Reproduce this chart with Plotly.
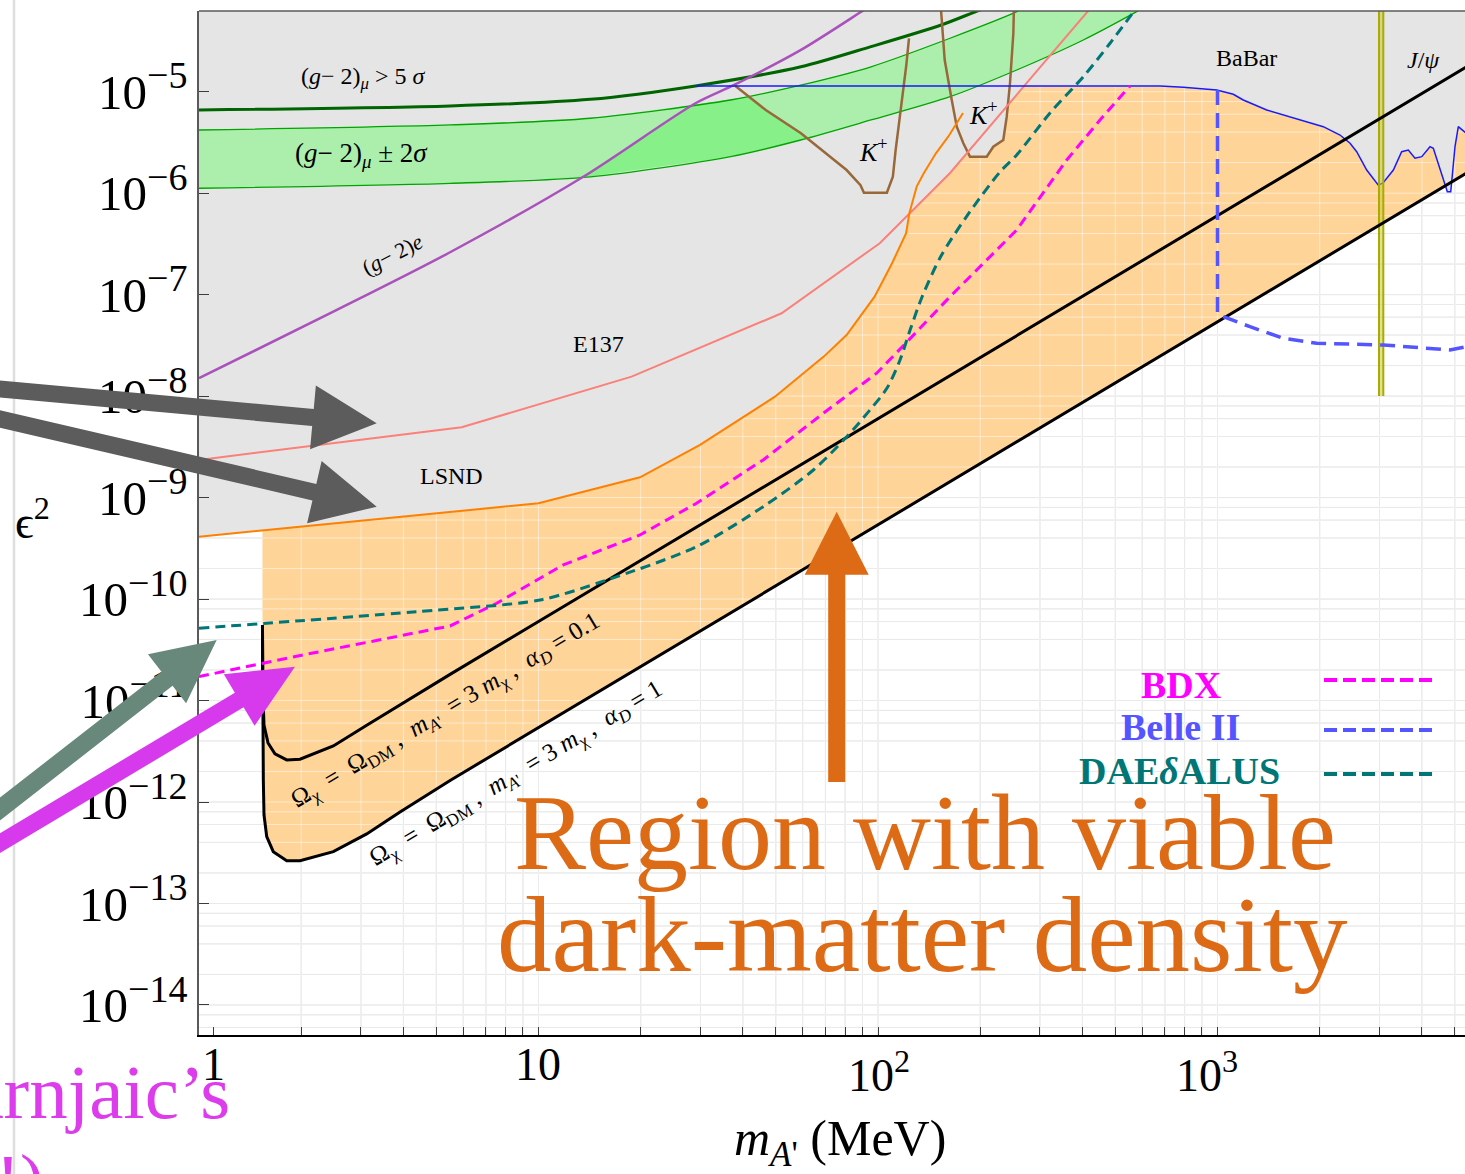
import numpy as np
import plotly.graph_objects as go

# ---------------- data: dark photon mass m_A' (MeV) vs kinetic mixing eps^2 ----------------
# LSND lower edge of exclusion
lsnd_m = [1.0, 10.0, 19.9, 29.9, 49.7, 69.2, 80.8, 97.7, 110, 121, 123.7, 130, 136.4, 148.1, 161, 178]
lsnd_eps = [4.12e-10, 8.79e-10, 1.585e-9, 3.30e-9, 9.87e-9, 2.45e-8, 4.0e-8, 9.55e-8, 2.04e-7,
            4.03e-7, 6.34e-7, 1.16e-6, 1.57e-6, 2.47e-6, 3.60e-6, 6.17e-6]
# E137 lower edge of exclusion
e137_m = [1.0, 5.94, 18.8, 52.0, 101.2, 163, 415.6, 450.8]
e137_eps = [2.35e-9, 4.93e-9, 1.555e-8, 6.55e-8, 3.21e-7, 1.58e-6, 6.24e-5, 8.0e-5]
# BaBar mono-photon limit
babar_m = [29.0, 677, 793, 995, 1113, 1191, 1396, 1750, 2049, 2295, 2457, 2570, 2751, 2976, 3073,
           3296, 3487, 3648, 3817, 3996, 4226, 4322, 4626, 4753, 4864, 5007, 5120, 5400]
babar_eps = [1.14e-5, 1.14e-5, 1.105e-5, 1.04e-5, 9.43e-6, 8.28e-6, 6.60e-6, 5.26e-6, 4.52e-6,
             3.74e-6, 3.10e-6, 2.56e-6, 1.69e-6, 1.20e-6, 1.26e-6, 1.69e-6, 2.56e-6, 2.66e-6,
             2.21e-6, 2.29e-6, 2.87e-6, 2.77e-6, 1.35e-6, 1.03e-6, 1.03e-6, 2.87e-6, 4.52e-6, 3.9e-6]
# (g-2)_mu > 5 sigma
gm2mu_m = [1.0, 5.49, 14.2, 29.0, 59.3, 95.4, 153.5, 199.5, 228.8]
gm2mu_eps = [6.60e-6, 7.23e-6, 8.41e-6, 1.14e-5, 1.76e-5, 2.78e-5, 4.54e-5, 6.38e-5, 7.48e-5]
# (g-2)_mu +- 2 sigma band
band_hi_m = [1.0, 5.49, 14.2, 36.8, 59.2, 95.4, 163, 256.2, 280.4]
band_hi_eps = [4.19e-6, 4.70e-6, 5.47e-6, 8.28e-6, 1.16e-5, 1.76e-5, 3.36e-5, 6.14e-5, 7.31e-5]
band_lo_m = [1.0, 5.49, 14.2, 36.8, 59.2, 95.4, 163, 256.2, 402.5, 578, 632.6]
band_lo_eps = [1.117e-6, 1.25e-6, 1.45e-6, 2.29e-6, 3.34e-6, 5.26e-6, 8.93e-6, 1.636e-5,
               3.23e-5, 6.14e-5, 7.31e-5]
# (g-2)_e
gm2e_m = [1.0, 2.487, 5.49, 13.55, 29.0, 37.7, 59.3, 90.9, 98.0]
gm2e_eps = [1.5e-8, 6.79e-8, 2.615e-7, 1.45e-6, 7.69e-6, 1.164e-5, 2.58e-5, 6.38e-5, 7.48e-5]
# K+ -> pi+ invisible (two windows)
kp1_m = [37.7, 46.7, 59.3, 68.4, 80.8, 88.8, 90.9, 106.2, 110.6, 112.7, 116.8, 121, 123.4]
kp1_eps = [1.164e-5, 6.60e-6, 3.89e-6, 2.66e-6, 1.69e-6, 1.20e-6, 1.01e-6, 1.01e-6, 1.45e-6,
           2.66e-6, 6.60e-6, 1.76e-5, 3.36e-5]
kp2_m = [152.8, 157.2, 164.9, 170.6, 178.4, 186.6, 209.0, 218.6, 233.9, 239.4, 244.8, 250.4, 251.5]
kp2_eps = [7.48e-5, 2.05e-5, 8.28e-6, 4.52e-6, 3.10e-6, 2.29e-6, 2.29e-6, 2.87e-6, 3.34e-6,
           5.67e-6, 1.21e-5, 3.76e-5, 7.15e-5]
# J/psi veto window
jpsi_m = [2990, 3079]
jpsi_eps = [1.0e-8, 1.0e-3]
# relic-density curves, m_A' = 3 m_chi
relic01_m = [1.538, 1.541, 1.554, 1.597, 1.674, 1.813, 1.984, 2.487, 3.119, 5.49, 10, 100, 1000, 5400]
relic01_eps = [5.56e-11, 1.27e-11, 5.74e-12, 3.82e-12, 2.98e-12, 2.60e-12, 2.64e-12, 3.57e-12,
               5.7e-12, 1.81e-11, 6.0e-11, 6.0e-9, 6.0e-7, 1.75e-5]
relic1_m = [1.538, 1.541, 1.547, 1.554, 1.583, 1.655, 1.813, 1.984, 2.487, 3.119, 3.91, 5.49,
            10, 100, 1000, 5400]
relic1_eps = [5.56e-11, 1.01e-11, 1.65e-12, 7.46e-13, 4.56e-13, 3.24e-13, 2.64e-13, 2.64e-13,
              3.24e-13, 4.85e-13, 7.98e-13, 1.63e-12, 5.4e-12, 5.4e-10, 5.4e-8, 1.57e-6]
# projected sensitivities
bdx_m = [1.0, 1.892, 5.49, 7.53, 11.83, 19.9, 29.2, 45.9, 69.0, 99.1, 120.9, 163, 256.2, 359.6,
         450.7, 552.4]
bdx_eps = [1.72e-11, 2.69e-11, 5.43e-11, 9.09e-11, 2.17e-10, 4.28e-10, 8.79e-10, 2.35e-9, 6.77e-9,
           1.68e-8, 3.34e-8, 9.55e-8, 4.34e-7, 2.12e-6, 5.26e-6, 1.14e-5]
belle_m = [1000, 1000, 1040, 1246, 1562, 1960, 3079, 4839, 5400]
belle_eps = [1.04e-5, 6.55e-8, 6.07e-8, 4.83e-8, 3.71e-8, 3.32e-8, 3.19e-8, 2.85e-8, 3.07e-8]
daed_m = [1.0, 4.376, 10.1, 15.88, 29.2, 45.9, 64.5, 80.9, 94.7, 106.3, 116.1, 124.3, 134.8, 153.3,
          185.4, 228.8, 256.2, 321.1, 402.5, 482.4, 579.5]
daed_eps = [5.16e-11, 7.51e-11, 9.79e-11, 1.54e-10, 3.28e-10, 8.14e-10, 1.87e-9, 3.98e-9, 7.30e-9,
            1.20e-8, 2.27e-8, 4.48e-8, 9.48e-8, 2.40e-7, 6.38e-7, 1.62e-6, 2.38e-6, 6.17e-6,
            1.405e-5, 3.0e-5, 6.83e-5]

# tick labels
x_major = [1.1, 10, 100, 1000]
x_major_text = ["1", "10", "10<sup>2</sup>", "10<sup>3</sup>"]
y_major = [1e-14, 1e-13, 1e-12, 1e-11, 1e-10, 1e-9, 1e-8, 1e-7, 1e-6, 1e-5]
y_major_exp = [14, 13, 12, 11, 10, 9, 8, 7, 6, 5]

# ---------------- layout geometry ----------------
W, H = 1465, 1174
ML, MR, MT, MB = 199, 0, 11, 139
PW, PH = W - ML - MR, H - MT - MB
XR = [0.0, 3.729]
YR = [-14.296, -4.205]
SERIF = "Liberation Serif, Times New Roman, DejaVu Serif, serif"
NB = "\u00a0"


def fx(px):
    return (px - ML) / PW


def fy(py):
    return (H - MB - py) / PH


def logi(mq, m, e):
    return np.interp(np.log10(mq), np.log10(m), np.log10(e), left=np.inf, right=np.inf)


# common mass grid for the filled regions
mg = np.unique(np.concatenate([
    np.logspace(0, np.log10(5400), 3000),
    lsnd_m, e137_m, babar_m, kp1_m, kp2_m, gm2e_m, relic1_m]))
mg = mg[(mg >= 1.0) & (mg <= 5400)]

excluded = np.min(np.vstack([
    logi(mg, lsnd_m, lsnd_eps), logi(mg, e137_m, e137_eps), logi(mg, babar_m, babar_eps),
    logi(mg, kp1_m, kp1_eps), logi(mg, kp2_m, kp2_eps), logi(mg, gm2e_m, gm2e_eps)]), axis=0)

fig = go.Figure()


def line(x, y, color, width, dash=None, shape="linear"):
    fig.add_trace(go.Scatter(x=x, y=y, mode="lines", hoverinfo="skip", showlegend=False,
                             line=dict(color=color, width=width, dash=dash, shape=shape,
                                       smoothing=0.8 if shape == "spline" else None)))


def poly(x, y, color):
    fig.add_trace(go.Scatter(x=list(x), y=list(y), mode="lines", fill="toself", fillcolor=color,
                             hoverinfo="skip", showlegend=False, line=dict(width=0, color=color)))


# grid (drawn as traces so it can sit between the filled regions)
vgrid = [k * 10 ** n for n in range(0, 4) for k in range(1, 10) if 1 < k * 10 ** n <= 5000]
hgrid = [k * 10.0 ** n for n in range(-15, -4) for k in (1, 2, 4, 6, 8)]


def grid(color):
    xs, ys = [], []
    for v in vgrid:
        xs += [v, v, None]
        ys += [1e-16, 1e-3, None]
    for h in hgrid:
        xs += [0.5, 1e4, None]
        ys += [h, h, None]
    line(xs, ys, color, 1)


grid("rgb(214,214,214)")

# viable relic region (between lower relic curve and the excluded region)
sel = mg >= relic1_m[0]
mo = mg[sel]
bot = logi(mo, relic1_m, relic1_eps)
top = np.maximum(excluded[sel], bot)
poly(np.concatenate([mo, mo[::-1]]), 10 ** np.concatenate([top, bot[::-1]]), "rgb(254,212,153)")

grid("rgba(255,255,255,0.5)")

# excluded region
poly(np.concatenate([mg, [5400, 1.0]]), np.concatenate([10 ** excluded, [1e-3, 1e-3]]),
     "rgb(229,229,229)")

# (g-2)_mu band, and its part not excluded by (g-2)_e and K+
poly(band_hi_m + band_lo_m[::-1], band_hi_eps + band_lo_eps[::-1], "rgb(172,239,172)")
mb = mg[(mg >= 10) & (mg <= 100)]
b_lo = logi(mb, band_lo_m, band_lo_eps)
b_hi = np.min(np.vstack([logi(mb, band_hi_m, band_hi_eps), logi(mb, gm2e_m, gm2e_eps),
                         logi(mb, kp1_m, kp1_eps)]), axis=0)
b_hi = np.maximum(b_hi, b_lo)
poly(np.concatenate([mb, mb[::-1]]), 10 ** np.concatenate([b_hi, b_lo[::-1]]), "rgb(136,240,136)")

line(band_hi_m, band_hi_eps, "rgb(0,165,0)", 1.3, shape="spline")
line(band_lo_m, band_lo_eps, "rgb(0,165,0)", 1.3, shape="spline")
line(gm2mu_m, gm2mu_eps, "rgb(0,100,0)", 3, shape="spline")
line(gm2e_m, gm2e_eps, "rgb(168,82,186)", 2.5, shape="spline")
line(kp1_m, kp1_eps, "rgb(152,104,58)", 2.5)
line(kp2_m, kp2_eps, "rgb(152,104,58)", 2.5)
line(e137_m, e137_eps, "rgb(250,128,122)", 2)
line(lsnd_m, lsnd_eps, "rgb(255,128,0)", 2)
line(babar_m, babar_eps, "rgb(25,25,255)", 1.5)

# J/psi veto
poly([jpsi_m[0], jpsi_m[1], jpsi_m[1], jpsi_m[0]], [jpsi_eps[0], jpsi_eps[0], jpsi_eps[1], jpsi_eps[1]],
     "rgba(200,200,60,0.55)")
line([jpsi_m[0], jpsi_m[0]], jpsi_eps, "rgb(170,170,0)", 2)
line([jpsi_m[1], jpsi_m[1]], jpsi_eps, "rgb(170,170,0)", 2)

# relic-density curves
line(relic01_m, relic01_eps, "black", 3)
line(relic1_m, relic1_eps, "black", 3)

# projections
C_BDX, C_BELLE, C_DAED = "rgb(255,0,255)", "rgb(85,85,255)", "rgb(0,118,118)"
line(bdx_m, bdx_eps, C_BDX, 3, dash="10px,6px")
line(daed_m, daed_eps, C_DAED, 3, dash="10px,6px", shape="spline")
line(belle_m, belle_eps, C_BELLE, 3.5, dash="15px,8px")

# ---------------- axes ----------------
y_text = ["10<sup><span style='font-size:38px'>\u2212%d</span></sup>" % k for k in y_major_exp]
fig.update_layout(
    width=W, height=H, margin=dict(l=ML, r=MR, t=MT, b=MB, pad=0),
    paper_bgcolor="white", plot_bgcolor="white",
    font=dict(family=SERIF, color="black"),
    xaxis=dict(type="log", range=XR, showgrid=False, zeroline=False, showline=True,
               linecolor="black", linewidth=1.5, ticks="inside", ticklen=8, tickwidth=1,
               tickcolor="rgb(60,60,60)", tickvals=x_major + vgrid, showticklabels=False),
    yaxis=dict(type="log", range=YR, showgrid=False, zeroline=False, showline=True,
               linecolor="rgb(90,90,90)", linewidth=1.5, ticks="inside", ticklen=10, tickwidth=1,
               tickcolor="rgb(60,60,60)", tickvals=y_major, ticktext=y_text,
               tickfont=dict(size=49, family=SERIF)),
)

shapes = []
# top frame and the slide rule on the left
shapes.append(dict(type="line", xref="paper", yref="paper", x0=0, x1=1, y0=1, y1=1,
                   line=dict(color="rgb(90,90,90)", width=1.5)))
shapes.append(dict(type="line", xref="paper", yref="paper", x0=fx(14), x1=fx(14), y0=fy(0), y1=fy(H),
                   line=dict(color="rgb(222,222,222)", width=2.5)))


def arrow(x0, y0, x1, y1, sw, hl, hw, color):
    d = np.array([x1 - x0, y1 - y0], float)
    u = d / np.hypot(*d)
    n = np.array([-u[1], u[0]])
    tip = np.array([x1, y1], float)
    tail = np.array([x0, y0], float)
    base = tip - u * hl
    pts = [tail + n * sw / 2, base + n * sw / 2, base + n * hw / 2, tip,
           base - n * hw / 2, base - n * sw / 2, tail - n * sw / 2]
    path = "M " + " L ".join("%.5f,%.5f" % (fx(p[0]), fy(p[1])) for p in pts) + " Z"
    shapes.append(dict(type="path", xref="paper", yref="paper", path=path, fillcolor=color,
                       line=dict(width=0), layer="above"))


arrow(-60, 383.5, 376.7, 423.3, 17, 64, 64, "rgb(92,92,92)")
arrow(-60, 405, 376.7, 506.7, 17, 64, 64, "rgb(92,92,92)")
arrow(-60, 855.8, 216.7, 640, 18, 63, 62, "rgb(104,136,124)")
arrow(-60, 879, 295, 666.7, 17, 65, 60, "rgb(214,58,236)")
arrow(836.7, 782, 836.7, 511.7, 17, 63, 64, "rgb(221,106,20)")

# legend keys
for yk, c in ((680, C_BDX), (730, C_BELLE), (774, C_DAED)):
    shapes.append(dict(type="line", xref="paper", yref="paper", x0=fx(1324), x1=fx(1433),
                       y0=fy(yk), y1=fy(yk), line=dict(color=c, width=4, dash="13px,6px")))

fig.update_layout(shapes=shapes)

ann = []


def text(x, y, s, size, color="black", angle=0, xanchor="center", yanchor="middle"):
    ann.append(dict(x=fx(x), y=fy(y), xref="paper", yref="paper", text=s, showarrow=False,
                    textangle=angle, xanchor=xanchor, yanchor=yanchor,
                    font=dict(size=size, color=color, family=SERIF)))


def sp(n):
    return NB * n


# x tick labels (bottom-aligned so the digits share a baseline)
for px_c, py_b, s in zip((213, 538, 879, 1207), (1092, 1092, 1103, 1103), x_major_text):
    text(px_c, py_b, s, 46, yanchor="bottom")

relic_lab = ("\u03a9<sub>\u03c7</sub>" + sp(2) + "=" + sp(2) + "\u03a9<sub>DM</sub>" + sp(1) + "," + sp(2)
             + "<i>m</i><sub><i>A</i>'</sub>" + sp(2) + "=" + sp(1) + "3" + sp(1) + "<i>m</i><sub>\u03c7</sub>"
             + sp(1) + "," + sp(2) + "<i>\u03b1</i><sub><i>D</i></sub>" + sp(1) + "=" + sp(1))

text(363, 78, "(<i>g</i>\u2212 2)<sub><i>\u03bc</i></sub> > 5 <i>\u03c3</i>", 24)
text(361, 155, "(<i>g</i>\u2212 2)<sub><i>\u03bc</i></sub> \u00b1 2<i>\u03c3</i>", 27)
text(392, 254, "(<i>g</i>\u2212 2)<i>e</i>", 22, angle=-27)
text(598, 344, "E137", 24)
text(451, 476, "LSND", 24)
text(873, 150, "<i>K</i><sup>+</sup>", 26)
text(983, 113, "<i>K</i><sup>+</sup>", 26)
text(1246, 58, "BaBar", 24)
text(1423, 60, "<i>J</i>/<i>\u03c8</i>", 24)
text(445, 711, relic_lab + "0.1", 25, angle=-31)
text(516, 774, relic_lab + "1", 25, angle=-31)
text(1181, 685, "<b>BDX</b>", 38, C_BDX)
text(1180, 727, "<b>Belle II</b>", 38, C_BELLE)
text(1179, 771, "<b>DAE<i>\u03b4</i>ALUS</b>", 38, C_DAED)
ORANGE = "rgb(221,107,22)"
text(925, 832, "Region with viable", 108, ORANGE)
text(922, 934, "dark-matter density", 109, ORANGE)
text(33, 519, "\u03f5<sup>2</sup>", 46)
text(840, 1142, "<i>m</i><sub><i>A</i>'</sub> (MeV)", 50)
text(232, 1092, "Krnjaic\u2019s", 77, "rgb(220,60,235)", xanchor="right")
text(46, 1138, "!)", 72, "rgb(220,60,235)", xanchor="right", yanchor="top")

fig.update_layout(annotations=ann)
fig.write_html("out.html")
